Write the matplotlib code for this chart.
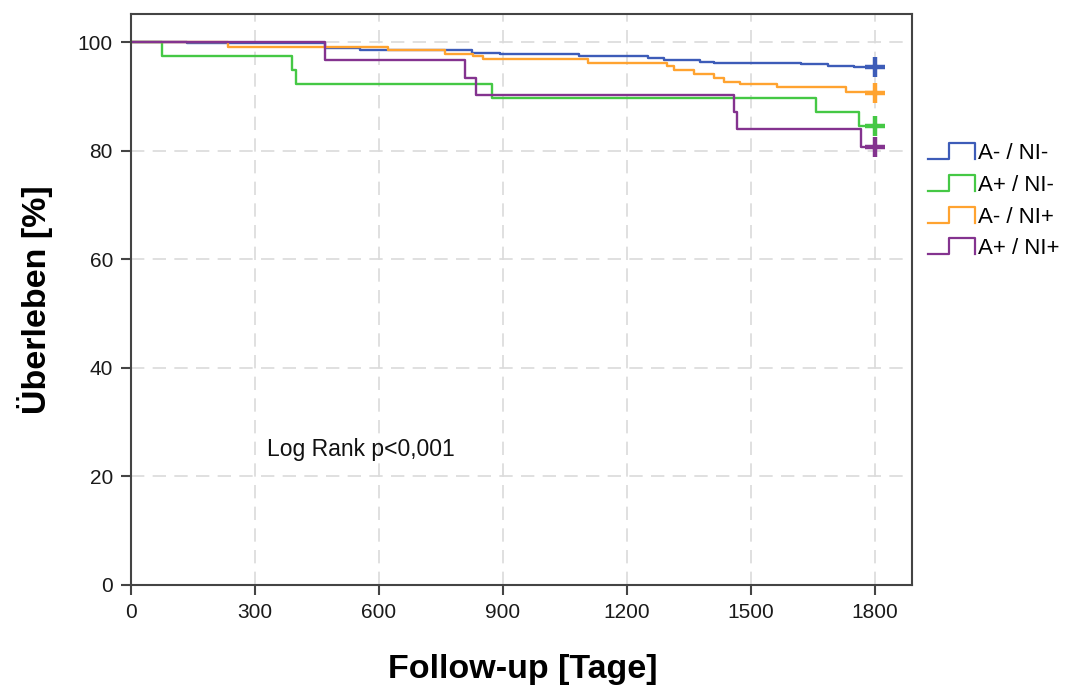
import matplotlib
matplotlib.use('Agg')
import matplotlib.pyplot as plt
from matplotlib.legend_handler import HandlerBase
from matplotlib.lines import Line2D

plt.rcParams['font.family'] = ['Liberation Sans', 'DejaVu Sans']

# Kaplan-Meier steps: (day, survival %)
blue_t = [0, 136, 470, 555, 826, 894, 1083, 1250, 1289, 1378, 1410, 1621, 1686, 1749, 1800]
blue_s = [100, 99.8, 98.9, 98.6, 98.1, 97.8, 97.5, 97.0, 96.8, 96.4, 96.2, 96.0, 95.6, 95.4, 95.4]

green_t = [0, 75, 390, 400, 874, 1657, 1761, 1800]
green_s = [100, 97.4, 94.8, 92.3, 89.8, 87.2, 84.6, 84.6]

orange_t = [0, 235, 622, 761, 828, 853, 1105, 1298, 1313, 1362, 1410, 1434, 1475, 1564, 1730, 1800]
orange_s = [100, 99.2, 98.5, 97.9, 97.5, 96.9, 96.1, 95.6, 94.8, 94.2, 93.4, 92.7, 92.3, 91.7, 90.8, 90.6]

purple_t = [0, 470, 809, 834, 1459, 1467, 1766, 1800]
purple_s = [100, 96.8, 93.4, 90.3, 87.2, 84.0, 80.7, 80.7]

labels = ['A- / NI-', 'A+ / NI-', 'A- / NI+', 'A+ / NI+']
colors = ['#3d5cb8', '#45c845', '#ffa330', '#84338f']

xticks = [0, 300, 600, 900, 1200, 1500, 1800]
yticks = [0, 20, 40, 60, 80, 100]


class StepHandler(HandlerBase):
    # legend key drawn as a small step, like SPSS does
    def create_artists(self, legend, orig, xd, yd, w, h, fontsize, trans):
        xs = [xd, xd + w * 0.45, xd + w * 0.45, xd + w, xd + w]
        ys = [yd, yd, yd + h, yd + h, yd]
        ln = Line2D(xs, ys, color=orig.get_color(), lw=1.6, transform=trans)
        return [ln]


fig = plt.figure(figsize=(10.66, 6.89), dpi=100)
ax = fig.add_axes([0.1229, 0.151, 0.7326, 0.8287])

series = [(blue_t, blue_s), (green_t, green_s), (orange_t, orange_s), (purple_t, purple_s)]
handles = []
for (t, s), lab, c in zip(series, labels, colors):
    h, = ax.step(t, s, where='post', color=c, lw=1.7, label=lab)
    ax.plot(t[-1], s[-1], marker='+', ms=15, mew=3.2, color=c)
    handles.append(h)

ax.set_xlim(0, 1890)
ax.set_ylim(0, 105.2)
ax.set_xticks(xticks)
ax.set_yticks(yticks)
ax.grid(True, ls=(0, (8, 5)), color='#dadada', lw=1.2)
ax.set_axisbelow(True)
for sp in ax.spines.values():
    sp.set_color('#444444')
    sp.set_linewidth(1.5)
ax.tick_params(direction='out', length=7, width=1.5, color='#444444',
               labelsize=15, labelcolor='#1a1a1a', pad=6)

fig.text(0.49, 0.0276, 'Follow-up [Tage]', fontsize=24.5, fontweight='bold',
         ha='center', va='center')
fig.text(0.0328, 0.5646, 'Überleben [%]', fontsize=24.5, fontweight='bold',
         ha='center', va='center', rotation=90)

ax.text(330, 24.9, 'Log Rank p<0,001', fontsize=16.5, va='center', color='#111111')

fig.legend(handles, labels, loc='upper left', bbox_to_anchor=(0.860, 0.808),
           frameon=False, fontsize=16, borderpad=0,
           handler_map={h: StepHandler() for h in handles},
           handlelength=2.1, handleheight=0.72, handletextpad=0.15, labelspacing=0.48)

fig.savefig('out.png', dpi=100)
